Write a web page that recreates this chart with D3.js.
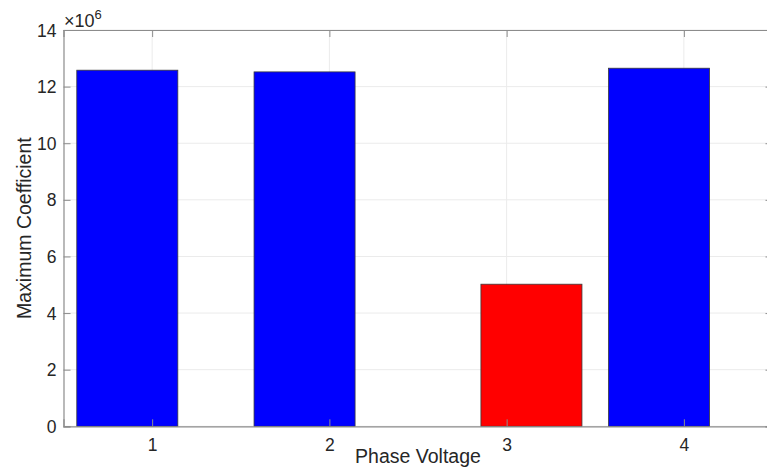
<!DOCTYPE html>
<html>
<head>
<meta charset="utf-8">
<script src="https://cdn.jsdelivr.net/npm/d3@7/dist/d3.min.js"></script>
<style>
  body { margin: 0; background: #fff; }
  svg { display: block; font-family: Arial, "Liberation Sans", Helvetica, sans-serif; }
  .tick text { fill: #262626; }
</style>
</head>
<body>
<svg></svg>
<script>
const width = 767;
const height = 471;

// chart values (coefficients are in units of 10^6)
const categories = [1, 2, 3, 4];
const blueValues = [12.58, 12.52, 0, 12.65];
const redValues = [0, 0, 5.02, 0];
const yTicks = [0, 2, 4, 6, 8, 10, 12, 14];
const seriesOffsets = [-0.14, 0.14];

const margin = {left: 63.5, top: 30, bottom: 44.7};
const plotRight = 63.5 + 709;
const barWidth = 0.57;

const svg = d3.select('svg')
    .attr('width', width)
    .attr('height', height);

const x = d3.scaleLinear()
    .domain([0.5, 4.5])
    .range([margin.left, plotRight]);

const y = d3.scaleLinear()
    .domain([0, 14])
    .range([height - margin.bottom, margin.top]);

const plot = svg.append('g');

// grid
plot.selectAll('.hgrid').data(yTicks)
  .enter().append('line')
    .attr('x1', x.range()[0]).attr('x2', x.range()[1])
    .attr('y1', d => y(d)).attr('y2', d => y(d))
    .attr('stroke', '#ebebeb');

plot.selectAll('.vgrid').data(categories)
  .enter().append('line')
    .attr('x1', d => x(d)).attr('x2', d => x(d))
    .attr('y1', y(0)).attr('y2', y(14))
    .attr('stroke', '#ebebeb');

// bars
const series = [
    {values: blueValues, color: '#0000ff', offset: seriesOffsets[0]},
    {values: redValues, color: '#ff0000', offset: seriesOffsets[1]}
];

series.forEach(s => {
    const rows = categories.map((c, i) => ({c, v: s.values[i]})).filter(d => d.v > 0);
    plot.selectAll(null).data(rows)
      .enter().append('rect')
        .attr('x', d => x(d.c + s.offset - barWidth / 2))
        .attr('width', x(barWidth) - x(0))
        .attr('y', d => y(d.v))
        .attr('height', d => y(0) - y(d.v))
        .attr('fill', s.color)
        .attr('stroke', '#3a3a3a')
        .attr('stroke-width', 0.8);
});

// axes (box with inward ticks)
const axisColor = '#8c8c8c';
const tickLen = 7;

const yAxis = svg.append('g')
    .attr('transform', `translate(${margin.left},0)`)
    .call(d3.axisLeft(y).tickValues(yTicks).tickSize(-tickLen).tickPadding(7));
yAxis.selectAll('text').attr('font-size', 17.5).attr('dy', '0.35em');

const yAxisRight = svg.append('g')
    .attr('transform', `translate(${plotRight},0)`)
    .call(d3.axisRight(y).tickValues(yTicks).tickSize(-tickLen).tickFormat(''));

const xAxis = svg.append('g')
    .attr('transform', `translate(0,${y(0)})`)
    .call(d3.axisBottom(x).tickValues(categories).tickFormat(d3.format('d'))
        .tickSize(-tickLen).tickPadding(12));
xAxis.selectAll('text').attr('font-size', 17.5);

const xAxisTop = svg.append('g')
    .attr('transform', `translate(0,${y(14)})`)
    .call(d3.axisTop(x).tickValues(categories).tickSize(-tickLen).tickFormat(''));

[yAxis, yAxisRight, xAxis, xAxisTop].forEach(a => {
    a.select('.domain').attr('stroke', axisColor).attr('stroke-width', 1.2);
    a.selectAll('.tick line').attr('stroke', axisColor);
});

// exponent label
const expo = svg.append('text')
    .attr('x', 64)
    .attr('y', 27)
    .attr('fill', '#262626')
    .style('font-size', '18px');
expo.append('tspan').text('\u00d710');
expo.append('tspan').style('font-size', '13px').attr('dy', -8).text('6');

// axis titles
svg.append('text')
    .attr('x', (x.range()[0] + x.range()[1]) / 2)
    .attr('y', 463)
    .attr('text-anchor', 'middle')
    .attr('fill', '#262626')
    .attr('font-size', 19.5)
    .text('Phase Voltage');

svg.append('text')
    .attr('transform', `translate(31,${(y(0) + y(14)) / 2}) rotate(-90)`)
    .attr('text-anchor', 'middle')
    .attr('fill', '#262626')
    .attr('font-size', 19.5)
    .text('Maximum Coefficient');
</script>
</body>
</html>
